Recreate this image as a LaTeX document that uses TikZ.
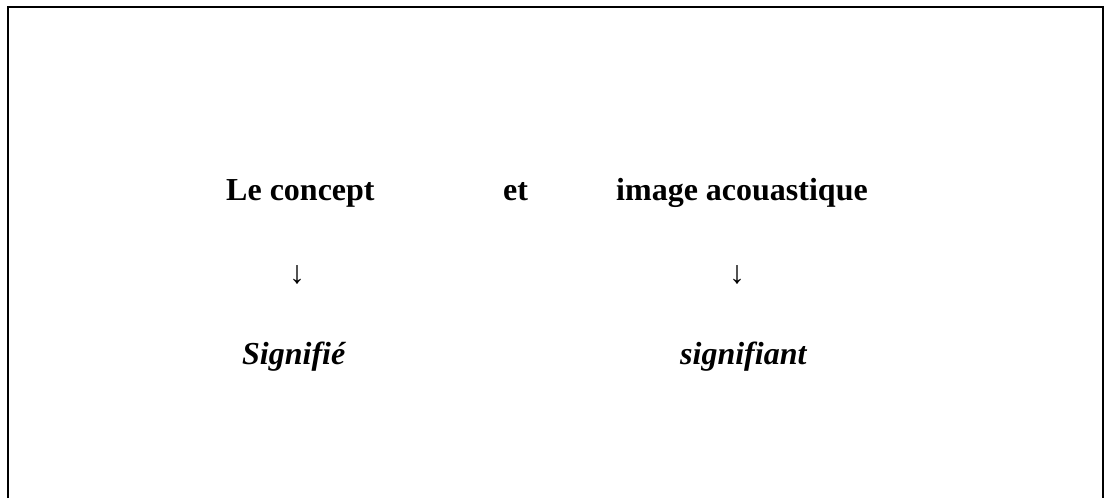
\documentclass[tikz,border=0pt]{standalone}
\usepackage{fontspec}
\setmainfont{Liberation Serif}
\begin{document}
\begin{tikzpicture}[x=1pt,y=-1pt,
  frame/.style={line width=2.2pt},
  lbl/.style={inner sep=0pt,anchor=base west,font=\fontsize{32}{38}\selectfont\bfseries},
  ilbl/.style={inner sep=0pt,anchor=base west,font=\fontsize{32}{38}\selectfont\bfseries\itshape},
  arr/.style={inner sep=0pt,anchor=center,font=\fontsize{32}{38}\selectfont}]
\useasboundingbox (0,0) rectangle (1108,498);
\draw[frame] (8,498) -- (8,6.7) -- (1103,6.7) -- (1103,498);
\node[lbl] (concept) at (226,200) {Le concept};
\node[lbl] (et) at (503,200) {et};
\node[lbl] (image) at (616,200) {image acouastique};
\node[arr] (a1) at (297,275) {↓};
\node[arr] (a2) at (737,275) {↓};
\node[ilbl] (signifie) at (242,364) {Signifié};
\node[ilbl] (signifiant) at (680,364) {signifiant};
\end{tikzpicture}
\end{document}
